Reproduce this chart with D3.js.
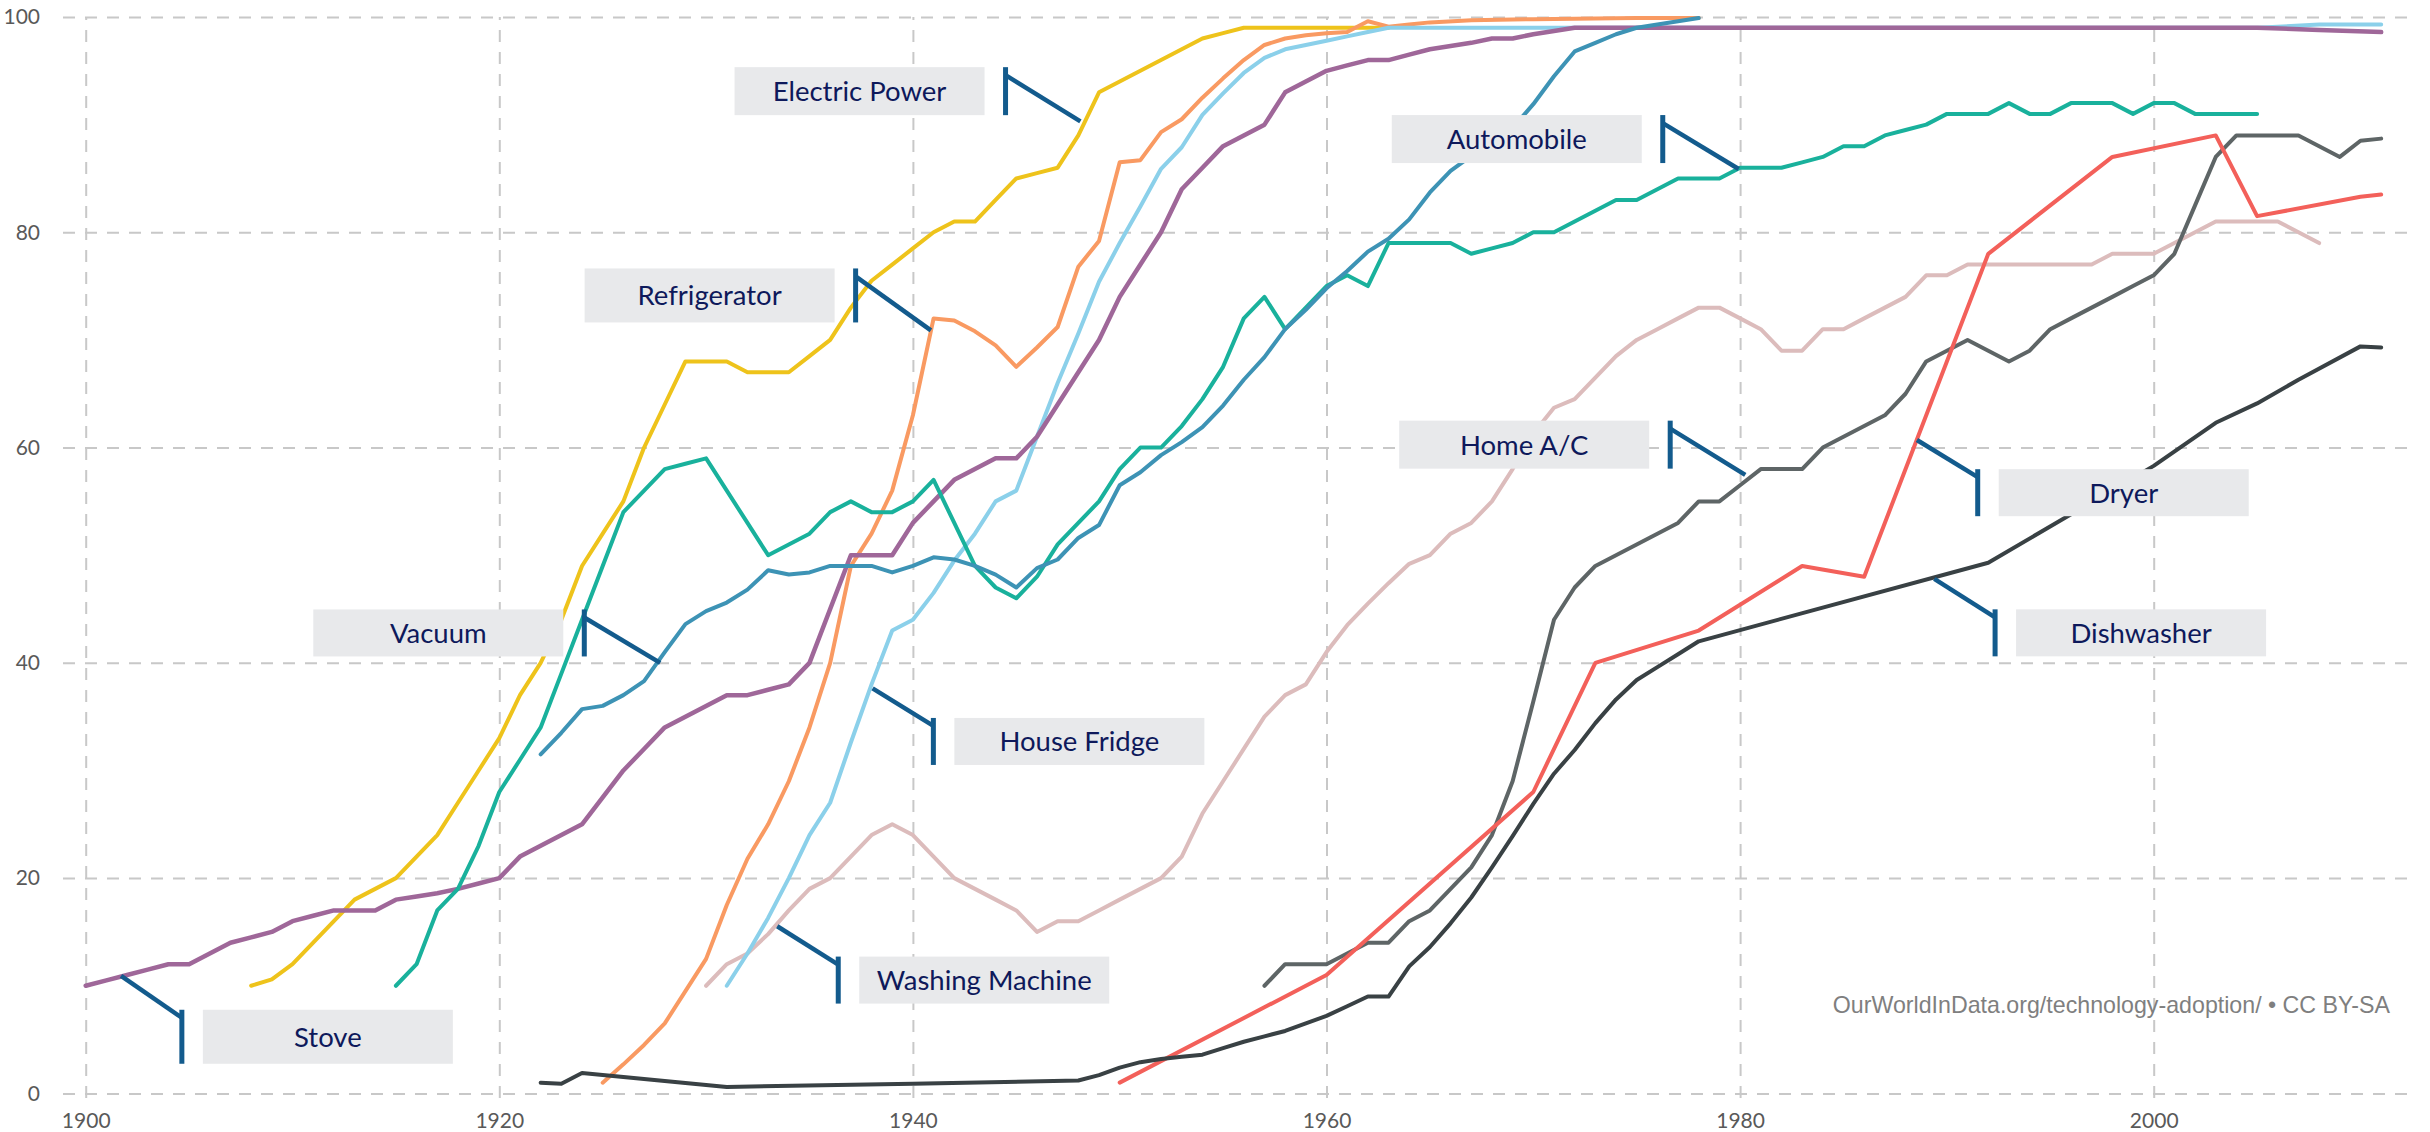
<!DOCTYPE html>
<html>
<head>
<meta charset="utf-8">
<script src="https://cdn.jsdelivr.net/npm/d3@7"></script>
<style>
  html, body { margin: 0; padding: 0; background: #fff; }
  svg { display: block; }
</style>
</head>
<body>
<div id="chart"></div>
<script>
/* ---- Data: share of US households (%) by year ---- */
var stove = [[1900,10],[1901,10.5],[1902,11],[1903,11.5],[1904,12],[1905,12],[1906,13],[1907,14],[1908,14.5],[1909,15],
  [1910,16],[1911,16.5],[1912,17],[1913,17],[1914,17],[1915,18],[1916,18.3],[1917,18.6],[1918,19],[1919,19.5],
  [1920,20],[1921,22],[1922,23],[1923,24],[1924,25],[1925,27.5],[1926,30],[1927,32],[1928,34],[1929,35],
  [1930,36],[1931,37],[1932,37],[1933,37.5],[1934,38],[1935,40],[1936,45],[1937,50],[1938,50],[1939,50],
  [1940,53],[1941,55],[1942,57],[1943,58],[1944,59],[1945,59],[1946,61],[1947,64],[1948,67],[1949,70],
  [1950,74],[1951,77],[1952,80],[1953,84],[1954,86],[1955,88],[1956,89],[1957,90],[1958,93],[1959,94],
  [1960,95],[1961,95.5],[1962,96],[1963,96],[1964,96.5],[1965,97],[1966,97.3],[1967,97.6],[1968,98],[1969,98],
  [1970,98.4],[1971,98.7],[1972,99],[1980,99],[1990,99],[2000,99],[2005,99],[2008,98.8],[2011,98.6]];

var electricPower = [[1908,10],[1909,10.6],[1910,12],[1911,14],[1912,16],[1913,18],[1914,19],[1915,20],[1916,22],[1917,24],
  [1918,27],[1919,30],[1920,33],[1921,37],[1922,40],[1923,44],[1924,49],[1925,52],[1926,55],[1927,60],
  [1928,64],[1929,68],[1930,68],[1931,68],[1932,67],[1933,67],[1934,67],[1935,68.5],[1936,70],[1937,73],
  [1938,75.5],[1939,77],[1940,78.5],[1941,80],[1942,81],[1943,81],[1944,83],[1945,85],[1946,85.5],[1947,86],
  [1948,89],[1949,93],[1950,94],[1951,95],[1952,96],[1953,97],[1954,98],[1955,98.5],[1956,99],[1963,99]];

var automobile = [[1915,10],[1916,12],[1917,17],[1918,19],[1919,23],[1920,28],[1921,31],[1922,34],[1923,39],[1924,44],
  [1925,49],[1926,54],[1927,56],[1928,58],[1929,58.5],[1930,59],[1931,56],[1932,53],[1933,50],[1934,51],
  [1935,52],[1936,54],[1937,55],[1938,54],[1939,54],[1940,55],[1941,57],[1942,53],[1943,49],[1944,47],
  [1945,46],[1946,48],[1947,51],[1948,53],[1949,55],[1950,58],[1951,60],[1952,60],[1953,62],[1954,64.5],
  [1955,67.5],[1956,72],[1957,74],[1958,71],[1959,73],[1960,75],[1961,76],[1962,75],[1963,79],[1964,79],
  [1965,79],[1966,79],[1967,78],[1968,78.5],[1969,79],[1970,80],[1971,80],[1972,81],[1973,82],[1974,83],
  [1975,83],[1976,84],[1977,85],[1978,85],[1979,85],[1980,86],[1981,86],[1982,86],[1983,86.5],[1984,87],
  [1985,88],[1986,88],[1987,89],[1988,89.5],[1989,90],[1990,91],[1991,91],[1992,91],[1993,92],[1994,91],
  [1995,91],[1996,92],[1997,92],[1998,92],[1999,91],[2000,92],[2001,92],[2002,91],[2003,91],[2004,91],[2005,91]];

var vacuum = [[1922,31.5],[1923,33.5],[1924,35.7],[1925,36],[1926,37],[1927,38.3],[1928,41],[1929,43.6],[1930,44.8],[1931,45.6],
  [1932,46.8],[1933,48.6],[1934,48.2],[1935,48.4],[1936,49],[1937,49],[1938,49],[1939,48.4],[1940,49],[1941,49.8],
  [1942,49.6],[1943,49],[1944,48.2],[1945,47],[1946,48.8],[1947,49.6],[1948,51.6],[1949,52.8],[1950,56.5],[1951,57.7],
  [1952,59.3],[1953,60.5],[1954,61.9],[1955,63.9],[1956,66.3],[1957,68.4],[1958,71],[1959,72.8],[1960,74.8],[1961,76.4],
  [1962,78.2],[1963,79.4],[1964,81.2],[1965,83.7],[1966,85.7],[1967,87.1],[1968,88.5],[1969,89.7],[1970,91.9],[1971,94.5],
  [1972,96.8],[1973,97.6],[1974,98.4],[1975,99],[1976,99.3],[1977,99.6],[1978,99.9]];

var refrigerator = [[1925,1],[1926,2.7],[1927,4.5],[1928,6.5],[1929,9.5],[1930,12.5],[1931,17.5],[1932,21.8],[1933,25],[1934,29],
  [1935,34],[1936,40],[1937,49],[1938,52],[1939,56],[1940,63],[1941,72],[1942,71.8],[1943,70.8],[1944,69.5],
  [1945,67.5],[1946,69.3],[1947,71.2],[1948,76.8],[1949,79.2],[1950,86.5],[1951,86.7],[1952,89.3],[1953,90.5],[1954,92.5],
  [1955,94.3],[1956,96],[1957,97.4],[1958,98],[1959,98.3],[1960,98.5],[1961,98.6],[1962,99.6],[1963,99.1],[1964,99.3],
  [1965,99.5],[1967,99.7],[1970,99.8],[1975,99.9],[1978,99.9]];

var houseFridge = [[1931,10],[1932,13],[1933,16.3],[1934,20],[1935,24],[1936,27],[1937,32.6],[1938,38],[1939,43],[1940,44],
  [1941,46.5],[1942,49.5],[1943,52],[1944,55],[1945,56],[1946,61],[1947,66],[1948,70.6],[1949,75.4],[1950,79],
  [1951,82.4],[1952,85.9],[1953,87.9],[1954,90.9],[1955,92.9],[1956,94.8],[1957,96.2],[1958,97],[1959,97.4],[1960,97.8],
  [1961,98.2],[1962,98.6],[1963,99],[1970,99],[1980,99],[1990,99],[2000,99],[2005,99],[2008,99.3],[2011,99.3]];

var washingMachine = [[1930,10],[1931,12],[1932,13],[1933,14.8],[1934,17],[1935,19],[1936,20],[1937,22],[1938,24],[1939,25],
  [1940,24],[1941,22],[1942,20],[1943,19],[1944,18],[1945,17],[1946,15],[1947,16],[1948,16],[1949,17],
  [1950,18],[1951,19],[1952,20],[1953,22],[1954,26],[1955,29],[1956,32],[1957,35],[1958,37],[1959,38],
  [1960,41],[1961,43.5],[1962,45.5],[1963,47.4],[1964,49.2],[1965,50],[1966,52],[1967,53],[1968,55],[1969,58],
  [1970,61.3],[1971,63.7],[1972,64.5],[1973,66.5],[1974,68.5],[1975,70],[1976,71],[1977,72],[1978,73],[1979,73],
  [1980,72],[1981,71],[1982,69],[1983,69],[1984,71],[1985,71],[1986,72],[1987,73],[1988,74],[1989,76],
  [1990,76],[1991,77],[1992,77],[1993,77],[1994,77],[1995,77],[1996,77],[1997,77],[1998,78],[1999,78],
  [2000,78],[2001,79],[2002,80],[2003,81],[2004,81],[2005,81],[2006,81],[2007,80],[2008,79]];

var homeAC = [[1957,10],[1958,12],[1959,12],[1960,12],[1961,13],[1962,14],[1963,14],[1964,16],[1965,17],[1966,19],
  [1967,21],[1968,24],[1969,29],[1970,36.4],[1971,44],[1972,47],[1973,49],[1974,50],[1975,51],[1976,52],
  [1977,53],[1978,55],[1979,55],[1980,56.5],[1981,58],[1982,58],[1983,58],[1984,60],[1985,61],[1986,62],
  [1987,63],[1988,65],[1989,68],[1990,69],[1991,70],[1992,69],[1993,68],[1994,69],[1995,71],[1996,72],
  [1997,73],[1998,74],[1999,75],[2000,76],[2001,78],[2002,82.5],[2003,87],[2004,89],[2005,89],[2006,89],
  [2007,89],[2008,88],[2009,87],[2010,88.5],[2011,88.7]];

var dryer = [[1950,1],[1960,11],[1970,28],[1973,40],[1978,43],[1983,49],[1986,48],[1992,78],[1998,87],[2003,89],
  [2005,81.5],[2010,83.3],[2011,83.5]];

var dishwasher = [[1922,1],[1923,0.9],[1924,1.9],[1931,0.6],[1940,0.9],[1948,1.2],[1949,1.7],[1950,2.4],[1951,2.9],[1952,3.2],
  [1953,3.4],[1954,3.6],[1955,4.2],[1956,4.8],[1957,5.3],[1958,5.8],[1959,6.5],[1960,7.2],[1961,8.1],[1962,9],
  [1963,9],[1964,11.8],[1965,13.6],[1966,15.8],[1967,18.2],[1968,21],[1969,23.9],[1970,26.9],[1971,29.7],[1972,31.9],
  [1973,34.4],[1974,36.6],[1975,38.4],[1976,39.6],[1977,40.8],[1978,42],[1992,49.3],[2000,58.3],[2003,62.3],[2005,64.1],
  [2007,66.3],[2010,69.4],[2011,69.3]];

var xTicks = [1900, 1920, 1940, 1960, 1980, 2000];
var yTicks = [0, 20, 40, 60, 80, 100];
var sourceText = "OurWorldInData.org/technology-adoption/ \u2022 CC BY-SA";

/* drawing order (bottom to top) and colours */
var seriesList = [
  { name: "Washing Machine", data: washingMachine, color: "#dcbcbc", width: 4 },
  { name: "Electric Power", data: electricPower, color: "#eec31b", width: 4 },
  { name: "Refrigerator", data: refrigerator, color: "#f99a62", width: 4 },
  { name: "House Fridge", data: houseFridge, color: "#8bd0ea", width: 4 },
  { name: "Stove", data: stove, color: "#9f6799", width: 4.5 },
  { name: "Automobile", data: automobile, color: "#19b19c", width: 4 },
  { name: "Vacuum", data: vacuum, color: "#3d93b5", width: 4 },
  { name: "Home A/C", data: homeAC, color: "#5e6566", width: 4 },
  { name: "Dryer", data: dryer, color: "#f3605a", width: 4 },
  { name: "Dishwasher", data: dishwasher, color: "#394144", width: 4 }
];

/* callouts: point on the line, top of the leader bar, box side */
var callouts = [
  { label: "Electric Power", pt: [1948.1, 90.3], bar: [1944.48, 95.34], side: "left", h: 48 },
  { label: "Refrigerator", pt: [1940.87, 70.88], bar: [1937.23, 76.64], side: "left", h: 54 },
  { label: "Automobile", pt: [1979.93, 85.88], bar: [1976.26, 90.89], side: "left", h: 48 },
  { label: "Home A/C", pt: [1980.25, 57.47], bar: [1976.62, 62.5], side: "left", h: 48 },
  { label: "Vacuum", pt: [1927.78, 40.0], bar: [1924.11, 44.96], side: "left", h: 47 },
  { label: "Stove", pt: [1901.71, 10.91], bar: [1904.65, 7.77], side: "right", h: 54 },
  { label: "House Fridge", pt: [1938.05, 37.63], bar: [1940.99, 34.88], side: "right", h: 47 },
  { label: "Washing Machine", pt: [1933.44, 15.53], bar: [1936.39, 12.71], side: "right", h: 47 },
  { label: "Dryer", pt: [1988.55, 60.7], bar: [1991.49, 57.99], side: "right", h: 47 },
  { label: "Dishwasher", pt: [1989.39, 47.8], bar: [1992.33, 44.97], side: "right", h: 47 }
];

(function () {
  var W = 2430, H = 1132;
  var left = 63, right = 2408, top = 17, bottom = 1093.4;

  var x = d3.scaleLinear().domain([1900, 2000]).range([85.7, 2153.7]);
  var y = d3.scaleLinear().domain([0, 100]).range([bottom, top]);

  var svg = d3.select("#chart").append("svg")
    .attr("width", W).attr("height", H)
    .style("font-family", "Lato, 'Open Sans', sans-serif");

  /* ---- Horizontal grid + y labels ---- */
  var gy = svg.append("g")
    .attr("transform", "translate(" + left + ",0)")
    .call(d3.axisLeft(y).tickValues(yTicks).tickSize(-(right - left)).tickPadding(23));
  gy.select(".domain").remove();

  /* ---- Vertical grid + x labels ---- */
  var gx = svg.append("g")
    .attr("transform", "translate(0,1098)")
    .call(d3.axisBottom(x).tickValues(xTicks).tickFormat(d3.format("d"))
      .tickSize(-(1098 - top)).tickPadding(15));
  gx.select(".domain").remove();

  svg.selectAll(".tick line")
    .attr("stroke", "#c8c8c8")
    .attr("stroke-width", 2)
    .attr("stroke-dasharray", "12,10");
  svg.selectAll(".tick text")
    .attr("fill", "#595959")
    .style("font-family", "Lato, 'Open Sans', sans-serif")
    .style("font-size", "21px");

  /* ---- Lines ---- */
  var line = d3.line()
    .x(function (d) { return x(d[0]); })
    .y(function (d) { return y(d[1]); });

  seriesList.forEach(function (s) {
    svg.append("path")
      .datum(s.data)
      .attr("fill", "none")
      .attr("stroke", s.color)
      .attr("stroke-width", s.width)
      .attr("stroke-linejoin", "round")
      .attr("stroke-linecap", "round")
      .attr("d", line);
  });

  /* ---- Callouts ---- */
  var boxW = 250, gap = 21, calloutCol = "#135b8d";
  callouts.forEach(function (c) {
    var bx = x(c.bar[0]), by = y(c.bar[1]);
    var rx = c.side === "left" ? bx - gap - boxW : bx + gap;

    svg.append("rect")
      .attr("x", rx).attr("y", by)
      .attr("width", boxW).attr("height", c.h)
      .attr("fill", "#e8e9eb");

    svg.append("text")
      .attr("x", rx + boxW / 2).attr("y", by + c.h / 2)
      .attr("dy", "0.36em")
      .attr("text-anchor", "middle")
      .attr("fill", "#0e195b")
      .style("font-size", "27.5px")
      .text(c.label);

    svg.append("line")
      .attr("x1", bx).attr("y1", by)
      .attr("x2", bx).attr("y2", by + c.h)
      .attr("stroke", calloutCol).attr("stroke-width", 5);

    svg.append("line")
      .attr("x1", bx).attr("y1", by + 8)
      .attr("x2", x(c.pt[0])).attr("y2", y(c.pt[1]))
      .attr("stroke", calloutCol).attr("stroke-width", 4.5);
  });

  /* ---- Source ---- */
  svg.append("text")
    .attr("x", 2390).attr("y", 1013)
    .attr("text-anchor", "end")
    .attr("fill", "#7f7f7f")
    .style("font-family", "'Liberation Sans', Arial, sans-serif")
    .style("font-size", "23.2px")
    .text(sourceText);
})();
</script>
</body>
</html>
